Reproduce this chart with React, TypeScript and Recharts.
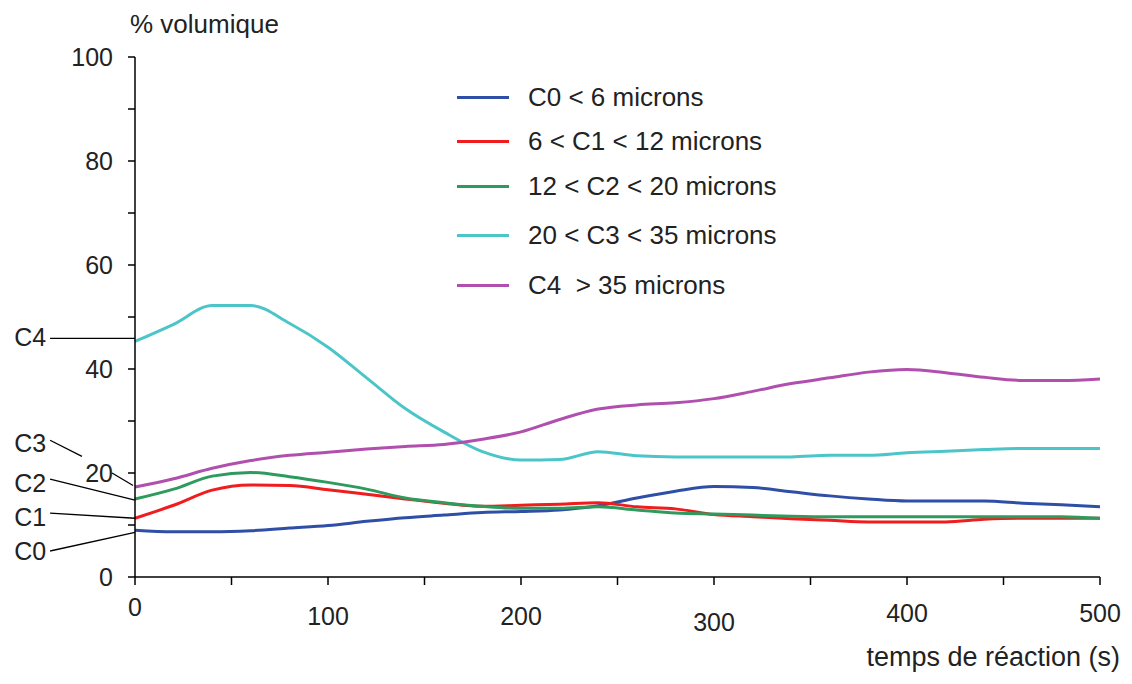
import { LineChart, Line, XAxis, YAxis, Legend, ReferenceLine, ReferenceDot } from "recharts";

// temps de réaction (s)
const times = [0, 20, 40, 60, 80, 100, 120, 140, 160, 180, 200, 220, 240, 260, 280, 300, 320, 340, 360, 380, 400, 420, 440, 460, 480, 500];

// % volumique per size class
const c0 = [9.0, 8.7, 8.7, 8.9, 9.4, 9.9, 10.7, 11.4, 11.9, 12.4, 12.6, 12.9, 13.7, 15.2, 16.5, 17.4, 17.2, 16.4, 15.6, 15.0, 14.6, 14.6, 14.6, 14.2, 13.9, 13.5];
const c1 = [11.3, 13.8, 16.7, 17.7, 17.6, 16.8, 15.9, 15.0, 14.2, 13.6, 13.8, 14.0, 14.3, 13.5, 13.1, 12.0, 11.6, 11.2, 10.9, 10.6, 10.6, 10.6, 11.1, 11.3, 11.3, 11.3];
const c2 = [15.0, 16.9, 19.4, 20.1, 19.3, 18.2, 16.9, 15.2, 14.3, 13.6, 13.2, 13.2, 13.5, 12.9, 12.3, 12.1, 11.9, 11.7, 11.6, 11.6, 11.6, 11.6, 11.6, 11.6, 11.6, 11.3];
const c3 = [45.3, 48.6, 52.2, 52.2, 48.8, 44.2, 38.3, 32.4, 27.9, 24.1, 22.5, 22.6, 24.1, 23.3, 23.1, 23.1, 23.1, 23.1, 23.4, 23.4, 23.9, 24.2, 24.5, 24.7, 24.7, 24.7];
const c4 = [17.3, 18.9, 20.9, 22.4, 23.4, 24.0, 24.6, 25.1, 25.5, 26.5, 27.9, 30.3, 32.3, 33.1, 33.5, 34.3, 35.7, 37.2, 38.3, 39.4, 39.9, 39.3, 38.4, 37.8, 37.8, 38.1];

const seriesKeys = ["c0", "c1", "c2", "c3", "c4"];
const seriesNames = ["C0 < 6 microns", "6 < C1 < 12 microns", "12 < C2 < 20 microns", "20 < C3 < 35 microns", "C4  > 35 microns"];
const seriesColors = ["#2f4fa6", "#f01c1e", "#2f9a5e", "#4cc5c9", "#b04fad"];

const xTicks = [0, 50, 100, 150, 200, 250, 300, 350, 400, 450, 500];
const yTicks = [0, 10, 20, 30, 40, 50, 60, 70, 80, 90, 100];

// callouts on the left of the y axis (data coordinates)
const calloutLabels = [
  { text: "C4", x: -46, y: 46.1 },
  { text: "C3", x: -46, y: 25.7 },
  { text: "C2", x: -46, y: 18.0 },
  { text: "C1", x: -46, y: 11.5 },
  { text: "C0", x: -46, y: 5.0 },
];
const calloutLeaders = [
  [{ x: -44, y: 45.9 }, { x: 0, y: 45.9 }],
  [{ x: -44, y: 26.3 }, { x: -27.5, y: 23.2 }],
  [{ x: -11.9, y: 20.0 }, { x: -1, y: 17.6 }],
  [{ x: -44, y: 18.8 }, { x: 0, y: 14.8 }],
  [{ x: -44, y: 12.3 }, { x: 0, y: 11.3 }],
  [{ x: -44, y: 5.0 }, { x: 0, y: 8.6 }],
];

const data = times.map((t, i) => ({ t, c0: c0[i], c1: c1[i], c2: c2[i], c3: c3[i], c4: c4[i] }));

const FONT = "'Liberation Sans', Arial, sans-serif";
const INK = "#222";

function YTick({ x, y, payload }: any) {
  if (payload.value % 20 !== 0) return null;
  return (
    <text x={x} y={y} dy="0.35em" textAnchor="end" fontFamily={FONT} fontSize={25} fill={INK}>
      {payload.value}
    </text>
  );
}

// the original tick labels sit at slightly uneven heights
const xLabelDrop: Record<number, number> = { 0: 29, 100: 38, 200: 38, 300: 44, 400: 35, 500: 35 };

function XTick({ x, y, payload }: any) {
  if (payload.value % 100 !== 0) return null;
  return (
    <text x={x} y={y + (xLabelDrop[payload.value] ?? 36)} textAnchor="middle" fontFamily={FONT} fontSize={25} fill={INK}>
      {payload.value}
    </text>
  );
}

const legendRowY = [22, 66, 111, 160, 210];

function LegendBox() {
  return (
    <div style={{ position: "relative", width: 360, height: 235, fontFamily: FONT }}>
      {seriesNames.map((name, i) => (
        <div
          key={name}
          style={{ position: "absolute", left: 0, top: legendRowY[i] - 15, height: 30, display: "flex", alignItems: "center" }}
        >
          <span style={{ display: "inline-block", width: 52, height: 3, background: seriesColors[i], marginLeft: 2 }} />
          <span style={{ marginLeft: 19, fontSize: 26, color: INK, whiteSpace: "pre" }}>{name}</span>
        </div>
      ))}
    </div>
  );
}

export default function App() {
  return (
    <LineChart width={1116} height={668} data={data} margin={{ top: 49, right: 24, bottom: 69, left: 67 }}>
      <XAxis
        dataKey="t"
        type="number"
        domain={[0, 500]}
        ticks={xTicks}
        interval={0}
        tick={<XTick />}
        tickSize={8}
        height={30}
        axisLine={{ stroke: "#000", strokeWidth: 1.5 }}
        tickLine={{ stroke: "#000", strokeWidth: 1.5 }}
        label={{
          content: ({ viewBox }: any) => (
            <text x={viewBox.x + viewBox.width + 20} y={viewBox.y + 89} textAnchor="end" fontFamily={FONT} fontSize={27} fill={INK}>
              temps de réaction (s)
            </text>
          ),
        }}
      />
      <YAxis
        type="number"
        domain={[0, 100]}
        ticks={yTicks}
        interval={0}
        tick={<YTick />}
        tickSize={7}
        tickMargin={15}
        width={60}
        axisLine={{ stroke: "#000", strokeWidth: 1.5 }}
        tickLine={{ stroke: "#000", strokeWidth: 1.5 }}
        label={{
          content: ({ viewBox }: any) => (
            <text x={viewBox.x + viewBox.width - 5} y={viewBox.y - 24} fontFamily={FONT} fontSize={26} fill={INK}>
              % volumique
            </text>
          ),
        }}
      />
      <Legend
        content={<LegendBox />}
        layout="vertical"
        align="center"
        verticalAlign="middle"
        wrapperStyle={{ left: 447, top: 67, width: 360 }}
      />
      {calloutLeaders.map((seg, i) => (
        <ReferenceLine key={"lead" + i} segment={seg} ifOverflow="visible" stroke="#000" strokeWidth={1.3} />
      ))}
      {calloutLabels.map((c) => (
        <ReferenceDot
          key={c.text}
          x={c.x}
          y={c.y}
          r={0}
          ifOverflow="visible"
          fill="none"
          stroke="none"
          label={{ value: c.text, position: "left", offset: 0, fontFamily: FONT, fontSize: 25, fill: INK }}
        />
      ))}
      {seriesKeys.map((k, i) => (
        <Line
          key={k}
          type="monotone"
          dataKey={k}
          name={seriesNames[i]}
          stroke={seriesColors[i]}
          strokeWidth={3}
          dot={false}
          activeDot={false}
          isAnimationActive={false}
        />
      ))}
    </LineChart>
  );
}
